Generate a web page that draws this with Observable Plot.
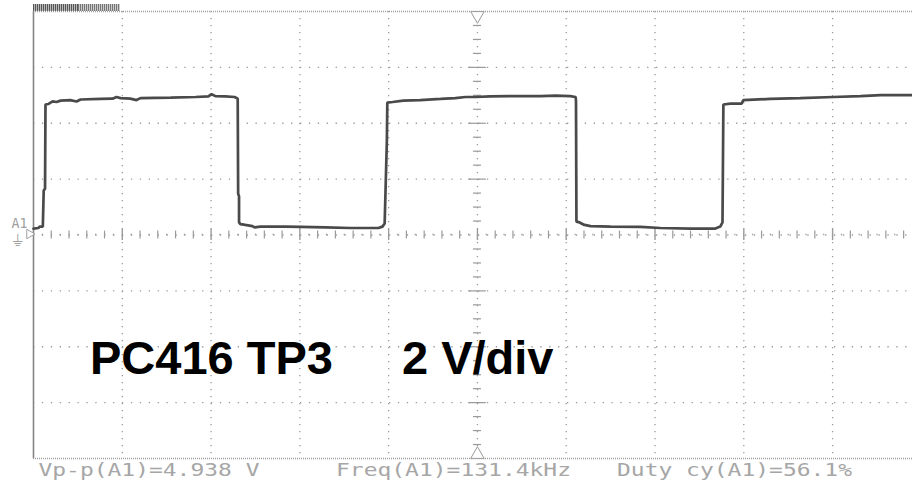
<!DOCTYPE html>
<html>
<head>
<meta charset="utf-8">
<script src="https://cdn.jsdelivr.net/npm/d3@7"></script>
<script src="https://cdn.jsdelivr.net/npm/@observablehq/plot@0.6"></script>
<style>
  html, body { margin: 0; padding: 0; background: #fff; }
  #wrap { position: relative; width: 912px; height: 501px; overflow: hidden; background: #fff; }
  .statusA { position: absolute; left: 33px; top: 4px; width: 45px; height: 7px;
    background: repeating-linear-gradient(90deg, #555 0 1px, #bbb 1px 2px); }
  .statusB { position: absolute; left: 78px; top: 4px; width: 42px; height: 7px;
    background: repeating-linear-gradient(90deg, #777 0 1px, #ccc 1px 2px); }
</style>
</head>
<body>
<div id="wrap"><div class="statusA"></div><div class="statusB"></div></div>
<script>
// Time in microseconds (2 µs/div), voltage in volts (2 V/div)
const traceT = [0.00,0.11,0.14,0.21,0.23,0.26,0.27,0.34,0.43,0.52,0.61,0.83,0.97,1.06,1.51,1.78,1.87,1.96,2.18,2.32,2.41,3.09,3.65,3.94,4.01,4.10,4.32,4.53,4.60,4.61,4.63,4.63,4.66,4.77,4.93,4.98,5.11,5.68,6.01,6.58,7.14,7.77,7.86,7.91,7.93,7.96,7.97,8.09,8.33,8.71,9.17,9.50,9.73,9.95,10.29,10.74,11.42,11.76,12.09,12.21,12.22,12.23,12.30,12.41,12.55,13.00,13.67,14.12,14.80,15.36,15.47,15.52,15.54,15.70,15.95,15.99,16.60,17.27,18.02,18.63,19.08,19.80];
const traceV = [0.23,0.25,0.30,0.30,1.59,1.66,4.67,4.69,4.78,4.76,4.81,4.83,4.78,4.85,4.87,4.88,4.94,4.90,4.88,4.83,4.90,4.92,4.94,4.96,5.04,4.97,4.96,4.94,4.88,1.48,1.38,0.45,0.39,0.36,0.32,0.27,0.30,0.30,0.29,0.27,0.25,0.25,0.30,0.41,1.59,3.38,4.74,4.76,4.81,4.83,4.87,4.90,4.94,4.94,4.96,4.97,4.97,4.99,4.97,4.94,4.81,0.48,0.45,0.36,0.32,0.30,0.29,0.25,0.23,0.23,0.30,0.45,4.67,4.70,4.70,4.83,4.87,4.90,4.94,4.97,5.01,5.01];

const gridT = [2, 4, 6, 8, 12, 14, 16, 18];
const gridV = [-6, -4, -2, 2, 4, 6];
const centerT = 10;
const measLabels = ["Vp-p(A1)=4.938 V", "Freq(A1)=131.4kHz", "Duty cy(A1)=56.1%"];
const titleLabels = ["PC416 TP3", "2 V/div"];
const channelLabel = "A1";

const trace = traceT.map((t, i) => ({t, v: traceV[i]}));
// minor graticule marks on center axes
const minorTicks = d3.range(0.4, 19.8, 0.4).filter(t => Math.abs(t / 2 - Math.round(t / 2)) > 1e-6);
const minorDots = d3.range(0.2, 19.8, 0.4);
const vTicks = d3.range(-7.5, 8, 0.5).filter(v => Math.abs(v / 2 - Math.round(v / 2)) > 1e-6);

const grey = "#9a9a9a";
const measStyle = {frameAnchor: "bottom-left", dy: 17, textAnchor: "start", lineAnchor: "bottom",
  fontFamily: "DejaVu Sans Mono", fontSize: 17, fill: "#a6a6a6", className: "meas"};
const chart = Plot.plot({
  width: 912, height: 501,
  marginLeft: 33, marginRight: 0, marginTop: 11, marginBottom: 43,
  x: {domain: [0, 19.8], axis: null},
  y: {domain: [-8, 8], axis: null},
  style: {background: "transparent", overflow: "visible"},
  marks: [
    // dotted graticule
    Plot.ruleX(gridT, {stroke: grey, strokeWidth: 1.3, strokeDasharray: "1.3,5.7"}),
    Plot.ruleY(gridV, {stroke: grey, strokeWidth: 1.3, strokeDasharray: "1.3,7.6"}),
    Plot.ruleX([centerT], {stroke: grey, strokeWidth: 1.3, strokeDasharray: "1.3,5.7"}),
    Plot.ruleY([0], {stroke: grey, strokeWidth: 1.3, strokeDasharray: "1.3,7.6"}),
    // center axis ticks
    Plot.ruleX(minorTicks, {y1: -0.14, y2: 0.14, stroke: grey, strokeWidth: 1.2}),
    Plot.ruleX(minorDots, {y1: -0.03, y2: 0.03, stroke: grey, strokeWidth: 1.2}),
    Plot.ruleX(gridT.concat([centerT]), {y1: -0.2, y2: 0.2, stroke: grey, strokeWidth: 1.4}),
    Plot.ruleY(vTicks, {x1: centerT - 0.09, x2: centerT + 0.09, stroke: grey, strokeWidth: 1.2}),
    Plot.ruleY(gridV, {x1: centerT - 0.2, x2: centerT + 0.2, stroke: grey, strokeWidth: 1.2}),
    // frame borders
    Plot.ruleY([8], {stroke: "#a0a0a0", strokeWidth: 1.6, strokeDasharray: "1,1"}),
    Plot.ruleY([-8], {stroke: "#a0a0a0", strokeWidth: 1.6, strokeDasharray: "1,1"}),
    Plot.ruleX([0], {stroke: "#858585", strokeWidth: 1.6}),
    // trigger markers
    Plot.dot([centerT], {x: d => d, y: 8, dy: 4, symbol: "triangle", r: 5, rotate: 180, stroke: "#999", fill: "white", strokeWidth: 1}),
    Plot.dot([centerT], {x: d => d, y: -8, dy: -4, symbol: "triangle", r: 5, stroke: "#999", fill: "white", strokeWidth: 1}),
    // waveform
    Plot.line(trace, {x: "t", y: "v", stroke: "#4a4a4a", strokeWidth: 2.7, curve: "linear", strokeLinejoin: "miter"}),
    // channel marker
    Plot.text([channelLabel], {frameAnchor: "left", dx: -22, dy: -7.5, textAnchor: "start", lineAnchor: "bottom",
      fontFamily: "DejaVu Sans Mono", fontSize: 14, fill: "#a0a0a0", className: "chan"}),
    Plot.text(["⏚"], {frameAnchor: "left", dx: -22, dy: 11, textAnchor: "start", lineAnchor: "bottom",
      fontFamily: "DejaVu Sans", fontSize: 16, fill: "#a0a0a0"}),
    Plot.dot([0], {x: d => d, y: 0, dx: -4, dy: -1, symbol: "triangle", r: 3.5, rotate: 90, stroke: "#a0a0a0", fill: "white", strokeWidth: 1}),
    // big annotation
    Plot.text([titleLabels[0]], {frameAnchor: "top-left", dx: 56.5, dy: 362, textAnchor: "start", lineAnchor: "bottom",
      fontFamily: "Liberation Sans, Arial, sans-serif", fontWeight: "bold", fontSize: 47, fill: "#000"}),
    Plot.text([titleLabels[1]], {frameAnchor: "top-left", dx: 368.5, dy: 362, textAnchor: "start", lineAnchor: "bottom",
      fontFamily: "Liberation Sans, Arial, sans-serif", fontWeight: "bold", fontSize: 47, fill: "#000"}),
    // measurement readouts
    Plot.text([measLabels[0]], {...measStyle, dx: 5}),
    Plot.text([measLabels[1]], {...measStyle, dx: 302.5}),
    Plot.text([measLabels[2]], {...measStyle, dx: 583.5})
  ]
});
// readout font is a wide, evenly spaced display font: stretch glyphs to its 14 px cell
d3.select(chart).selectAll(".meas text").each(function() {
  const n = this.textContent.length;
  d3.select(this).attr("textLength", n * 14 - 3).attr("lengthAdjust", "spacingAndGlyphs");
});
d3.select(chart).selectAll(".chan text").attr("textLength", 16).attr("lengthAdjust", "spacingAndGlyphs");
chart.style.position = "absolute";
chart.style.left = "0";
chart.style.top = "0";
document.getElementById("wrap").appendChild(chart);
</script>
</body>
</html>
